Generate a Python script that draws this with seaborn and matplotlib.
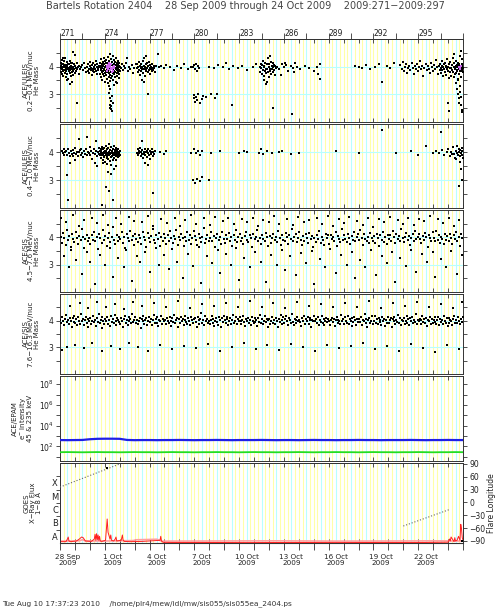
import numpy as np
import seaborn as sns
import matplotlib.pyplot as plt
from matplotlib.ticker import FixedLocator, NullFormatter, LogFormatterMathtext

sns.set_style("white")
plt.rcParams['font.family'] = ['DejaVu Sans']

# ---------------- data (2009 day of year) ----------------
start_day, end_day = 270.5, 297.5
doy_ticks = [271, 274, 277, 280, 283, 286, 289, 292, 295]
date_labels = ['28 Sep', '1 Oct', '4 Oct', '7 Oct', '10 Oct', '13 Oct', '16 Oct', '19 Oct', '22 Oct']

# He mass points as (hundredths of a day after DOY 270, mass x 100)
uleis_lo = [
    (55,402),(57,381),(58,415),(60,396),(62,372),(63,408),(65,391),(66,425),(68,399),(70,384),(71,410),(73,368),
    (75,397),(76,420),(78,389),(80,405),(81,376),(83,398),(85,431),(87,392),(88,362),(90,407),(92,385),(94,399),
    (95,418),(97,374),(99,402),(101,391),(103,411),(104,355),(106,396),(108,383),(110,408),(112,394),(114,421),
    (115,377),(117,400),(119,388),(121,412),(123,365),(125,396),(127,404),(129,381),(131,393),(133,415),(135,371),
    (137,398),(140,386),(143,409),(146,392),(149,378),(152,401),(155,395),(158,383),(161,412),(164,270),(167,390),
    (170,399),(174,375),(178,404),(182,392),(100,350),(120,338),(140,452),(72,432),(128,345),(148,441),(95,352),
    (190,398),(196,405),(203,388),(210,412),(218,395),(224,380),
    (232,398),(236,385),(240,410),(243,392),(247,376),(250,403),(253,418),(256,389),(259,396),(262,371),(265,407),
    (268,393),(271,384),(274,412),(277,399),(280,380),(283,405),(286,391),(289,422),(292,386),(295,400),(298,374),
    (301,409),(304,395),(307,388),(310,401),(385,447),
    (318,398),(319,372),(321,415),(322,388),(324,403),(325,361),(327,394),(328,427),(330,381),(331,409),(333,396),
    (334,352),(336,418),(337,385),(339,401),(340,374),(342,432),(343,393),(345,366),(346,408),(348,389),(349,420),
    (351,377),(352,399),(354,345),(355,412),(357,386),(358,403),(360,369),(361,425),(363,392),(364,380),(366,414),
    (367,357),(369,398),(370,436),(372,384),(373,405),(375,363),(376,391),(378,419),(379,376),(381,401),(382,348),
    (384,388),(387,410),(388,371),(390,395),(391,428),(393,382),(394,359),(396,406),(397,390),(399,416),(400,367),
    (402,399),(403,440),(405,378),(406,393),(408,351),(409,411),(411,386),(412,423),(414,374),(415,402),(417,362),
    (418,394),(420,418),(421,381),(423,405),(424,344),(426,390),(427,430),(429,377),(430,398),(432,413),(433,365),
    (435,389),(436,407),(438,380),(439,421),(441,395),(442,358),(444,403),(445,387),(447,415),(448,372),(450,397),
    (452,384),(376,330),(380,305),(384,285),(386,262),(390,248),(392,275),(395,258),(398,295),(388,320),(402,270),
    (383,252),(396,240),(372,340),(410,335),(430,342),
    (458,396),(465,410),(472,388),(480,402),(488,394),(495,415),(503,384),(512,399),(520,390),(530,405),(540,378),
    (548,396),(556,409),(500,432),
    (566,395),(569,408),(572,382),(575,399),(578,416),(581,388),(584,403),(587,370),(590,396),(593,411),(596,385),
    (599,400),(602,392),(605,421),(608,377),(611,404),(614,390),(617,398),(620,365),(623,409),(626,393),(629,384),
    (632,414),(635,396),(638,379),(641,402),(644,389),(647,418),(650,395),(653,372),(656,406),(659,391),(662,399),
    (665,383),(668,410),(671,394),(674,387),(678,403),(682,396),(686,380),(690,401),(600,350),(610,345),(640,300),
    (625,440),(612,432),
    (706,447),(712,398),(730,402),(745,394),(760,405),(790,399),(812,388),(835,401),(860,396),(880,410),(905,392),
    (925,398),(940,398),(946,405),(952,392),(958,411),(965,386),(972,402),(980,395),(945,285),(950,298),(955,272),
    (962,290),(968,278),(975,301),(985,270),(1000,282),(1010,295),(1030,290),(1060,302),(1090,285),(1100,300),
    (1050,400),(1080,395),(1110,406),(1140,398),(1160,415),(1185,392),(1210,404),(1240,396),(1270,401),(1300,389),
    (1340,398),(1365,410),(1205,262),
    (1390,398),(1393,382),(1396,411),(1399,394),(1402,372),(1405,405),(1408,389),(1411,420),(1414,397),(1417,368),
    (1420,402),(1423,385),(1426,415),(1429,393),(1432,376),(1435,408),(1438,390),(1441,430),(1444,381),(1447,399),
    (1450,364),(1453,410),(1456,392),(1459,386),(1462,418),(1465,375),(1468,401),(1471,393),(1474,412),(1477,380),
    (1480,397),(1483,406),(1486,388),(1489,370),(1492,403),(1495,394),(1420,352),(1440,345),(1460,440),(1477,250),
    (1604,230),(1430,338),
    (1505,400),(1520,392),(1535,410),(1550,398),(1565,405),(1580,386),(1595,402),(1610,395),(1625,412),(1640,399),
    (1660,390),(1690,403),(1720,396),(1750,385),(1770,400),(1790,408),(1530,370),(1560,415),(1620,380),(1780,375),
    (1790,355),(2026,402),(2050,398),(2075,395),(2100,405),(2130,392),(2160,399),(2190,410),(2207,345),(2240,402),
    (2260,396),(2285,415),
    (2330,405),(2338,392),(2345,418),(2352,385),(2360,399),(2368,410),(2375,378),(2382,396),(2390,402),(2398,388),
    (2405,415),(2412,394),(2420,372),(2428,403),(2435,391),(2442,409),(2450,384),(2457,398),(2464,420),(2471,390),
    (2478,401),(2485,366),(2492,395),(2499,410),(2506,387),(2513,402),(2520,393),(2527,378),(2534,412),(2541,399),
    (2548,384),(2555,406),(2562,391),(2569,425),(2576,397),(2583,375),(2590,403),
    (2594,389),(2597,410),(2600,396),(2603,378),(2606,402),(2609,421),(2612,387),(2615,399),(2618,365),(2621,408),
    (2624,393),(2627,382),(2630,414),(2633,397),(2636,371),(2639,404),(2642,390),(2645,426),(2648,385),(2651,400),
    (2654,358),(2657,411),(2660,394),(2663,379),(2666,418),(2669,396),(2672,368),(2675,405),(2678,389),(2681,432),
    (2684,381),(2687,399),(2690,361),(2693,412),(2696,392),(2699,375),(2702,420),(2705,397),(2708,384),(2711,406),
    (2714,350),(2717,415),(2720,390),(2723,372),(2726,402),(2729,438),(2732,386),(2735,398),(2738,364),(2741,411),
    (2744,393),(2747,379),(2700,402),(2710,388),(2715,399),(2725,410),(2730,395),(2740,383),(2745,404),(2705,376),
    (2690,445),(2735,455),(2742,428),(2748,395),
    (2705,340),(2712,320),(2718,300),(2722,285),(2726,270),(2731,330),(2736,262),(2740,245),(2744,235),(2728,310),
    (2738,290),(2715,355),(2657,240),(2650,270),
]
# densest ULEIS pixels (drawn in violet)
uleis_lo_peak = [
    (362,396),(366,402),(370,391),(374,405),(378,398),(382,388),(386,401),(390,394),(394,408),(398,392),(402,399),
    (406,386),(410,403),(414,395),(368,385),(388,410),(400,380),(380,412),
    (2725,400),(2730,396),(2735,404),(2728,392),
]
uleis_hi = [
    (62,402),(68,395),(74,410),(80,388),(86,399),(92,405),(98,391),(104,412),(110,396),(116,384),(122,402),(128,393),
    (134,408),(140,387),(146,398),(152,415),(158,392),(164,401),(170,385),(176,399),(182,406),(188,390),(194,412),
    (200,396),(206,381),(212,403),(218,394),(224,409),(230,388),(236,400),(242,395),(248,418),(254,389),(260,402),
    (266,376),(272,397),(278,410),(284,392),(290,404),(296,386),(302,399),(308,413),(314,393),
    (97,319),(104,230),(120,360),(180,445),(150,370),(285,360),(300,350),(292,440),(230,452),
    (318,405),(320,388),(322,412),(324,395),(326,378),(328,402),(330,419),(332,390),(334,398),(336,372),(338,409),
    (340,394),(342,383),(344,416),(346,399),(348,387),(350,405),(352,364),(354,396),(356,422),(358,391),(360,403),
    (362,380),(364,410),(366,397),(368,386),(370,414),(372,393),(374,375),(376,401),(378,428),(380,389),(382,398),
    (384,368),(386,408),(388,392),(390,381),(392,417),(394,396),(396,404),(398,385),(400,399),(402,371),(404,411),
    (406,394),(408,388),(410,420),(412,397),(414,379),(416,406),(418,391),(420,402),(422,384),(424,413),(426,395),
    (428,370),(430,400),(432,389),(434,408),(436,396),(438,382),(440,411),(442,393),(444,401),(446,387),(448,397),
    (450,405),(452,390),(335,362),(365,358),(395,355),(425,350),
    (331,210),(358,274),(405,230),(380,260),(370,330),(390,320),(415,340),
    (566,398),(570,410),(574,389),(578,402),(582,395),(586,415),(590,385),(594,400),(598,392),(602,408),(606,378),
    (610,401),(614,394),(618,412),(622,388),(626,399),(630,405),(634,383),(638,396),(642,410),(646,390),(650,402),
    (654,376),(658,399),(662,393),(666,411),(670,386),(676,400),(682,394),(688,404),
    (674,255),(620,360),(600,440),(640,355),
    (720,400),(745,392),(760,405),(930,398),(945,412),(960,395),(975,402),(990,388),(1000,405),(940,300),(955,290),
    (970,302),(985,295),(1000,310),(1045,300),(1060,398),(1120,402),(1250,396),(1280,405),(1300,400),(1380,398),
    (1395,410),(1410,392),(1440,403),(1470,396),(1520,400),(1540,405),(1600,392),(1650,398),(1900,402),(2050,398),
    (2210,480),(2300,396),(2400,404),(2450,390),(2500,420),(2550,398),(2605,470),
    (2570,402),(2590,395),(2610,408),(2625,390),(2640,399),(2650,412),(2660,386),(2670,401),(2678,394),(2685,418),
    (2692,392),(2698,380),(2704,405),(2710,397),(2716,388),(2720,411),(2724,399),(2728,384),(2732,406),(2736,395),
    (2740,415),(2743,390),(2746,402),(2748,378),(2712,420),(2702,375),(2730,365),(2738,340),(2742,300),(2725,280),
]

# SIS 4.5-7.6 MeV/nuc He mass (x100), 2-hour samples from DOY 270.5
sis_lo_mass = [
    402,381,415,396,372,428,390,405,366,411,393,384, 419,398,377,406,389,432,401,362,395,410,385,399,
    374,408,392,421,387,403,358,414,396,380,427,391, 405,369,398,416,383,400,437,392,375,409,388,402,
    394,418,379,401,362,413,397,386,424,390,405,371, 411,393,384,407,399,376,420,402,389,365,415,396,
    383,404,430,391,378,409,395,417,368,400,386,412, 397,375,410,388,422,399,381,406,393,428,372,401,
    389,414,396,367,403,385,419,392,408,377,398,425, 406,390,373,412,398,384,401,435,379,395,410,387,
    399,421,385,404,363,396,413,389,402,376,418,394, 378,407,395,416,388,401,370,409,392,426,383,400,
    412,386,399,374,405,419,391,382,408,397,365,414, 393,403,428,385,398,377,410,394,387,416,401,369,
    405,380,396,413,390,402,384,423,398,372,407,391, 387,415,401,376,409,395,431,388,400,413,382,397,
    420,392,371,404,386,411,398,379,416,393,405,364, 398,384,409,395,425,380,402,390,373,412,396,407,
    376,410,393,401,387,418,369,404,395,383,429,392, 409,395,382,414,398,375,406,391,421,386,400,412,
    390,427,399,372,411,394,385,403,378,416,397,388, 404,381,413,396,367,408,392,419,384,401,374,410,
    395,408,386,422,400,379,414,393,405,388,432,397, 383,401,417,390,406,371,398,411,387,424,393,402,
    412,394,378,405,389,416,400,366,409,396,385,418, 399,386,423,392,410,381,403,395,374,412,390,406,
    387,414,398,376,408,393,420,385,401,369,411,396,
]
sis_lo_out = [
    (58,470),(75,330),(92,455),(110,290),(125,352),(140,480),(160,318),(178,440),(195,265),(212,462),(230,345),
    (248,310),(265,470),(283,228),(300,452),(318,335),(335,480),(352,300),(370,445),(388,360),(405,255),(422,470),
    (440,325),(458,448),(476,290),(494,355),(512,475),(530,240),(548,460),(566,330),(584,310),(602,455),(620,345),
    (638,478),(656,272),(674,440),(692,362),(710,300),(728,466),(746,335),(764,452),(782,285),(800,358),(818,470),
    (836,310),(854,440),(872,250),(890,462),(908,340),(926,480),(944,295),(962,450),(980,365),(998,232),(1016,470),
    (1034,330),(1052,445),(1070,305),(1088,476),(1106,352),(1124,268),(1142,458),(1160,338),(1178,470),(1196,300),
    (1214,448),(1232,360),(1250,245),(1268,466),(1286,325),(1304,455),(1322,290),(1340,472),(1358,348),(1376,440),
    (1394,310),(1412,462),(1430,238),(1448,455),(1466,335),(1484,478),(1502,298),(1520,450),(1538,355),(1556,280),
    (1574,468),(1592,330),(1610,446),(1628,262),(1646,475),(1664,342),(1682,455),(1700,305),(1718,462),(1736,350),
    (1754,228),(1772,470),(1790,320),(1808,448),(1826,292),(1844,478),(1862,358),(1880,440),(1898,270),(1916,466),
    (1934,335),(1952,452),(1970,300),(1988,474),(2006,345),(2024,250),(2042,460),(2060,318),(2078,445),(2096,290),
    (2114,472),(2132,355),(2150,438),(2168,262),(2186,468),(2204,332),(2222,455),(2240,305),(2258,476),(2276,348),
    (2294,236),(2312,462),(2330,325),(2348,450),(2366,295),(2384,470),(2402,352),(2420,445),(2438,275),(2456,466),
    (2474,338),(2492,458),(2510,310),(2528,478),(2546,345),(2564,255),(2582,468),(2600,322),(2618,452),(2636,290),
    (2654,472),(2672,350),(2690,442),(2708,265),(2726,462),(2744,335),
]

# SIS 7.6-16.3 MeV/nuc He mass (x100), 1.5-hour samples from DOY 270.5
sis_hi_mass = [
    402,391,414,398,385,407,420,395,403,388,411,399,376,409,396,417, 393,405,382,412,400,389,424,397,408,384,401,415,392,378,406,398,
    410,387,399,418,394,403,381,409,396,426,390,404,372,412,399,386, 405,397,413,389,401,380,416,395,407,392,421,399,385,410,402,394,
    388,411,400,377,406,419,393,402,384,414,398,408,391,425,396,403, 415,392,404,387,399,411,374,406,397,418,389,402,409,383,400,413,
    396,408,383,401,420,393,405,390,412,379,403,397,416,388,407,399, 404,386,410,397,392,415,400,381,409,395,423,391,402,411,376,405,
    391,413,398,406,385,402,418,394,387,410,399,382,414,401,393,408, 410,395,378,412,401,389,405,427,392,403,384,416,398,407,390,399,
    387,404,419,393,408,380,400,411,396,385,413,402,375,409,394,417, 401,392,406,415,383,398,410,389,404,421,393,400,412,386,405,397,
    413,399,388,402,417,394,379,407,398,411,390,403,385,414,400,392, 395,410,403,381,409,396,422,391,405,387,400,418,394,406,378,402,
    408,386,397,414,392,404,388,411,399,375,407,395,420,389,401,412, 390,405,417,398,384,410,401,393,426,396,382,408,403,391,415,399,
    403,394,381,409,400,416,389,405,397,412,386,401,410,377,404,398, 416,399,407,390,413,385,402,395,419,392,406,383,400,411,394,408,
    397,382,404,411,396,408,379,401,414,390,403,397,388,421,399,405, 389,412,400,393,418,387,406,398,381,409,395,413,402,385,407,394,
    406,395,413,384,401,397,424,390,408,376,403,410,393,399,416,388, 400,418,391,405,389,411,396,402,385,414,398,407,380,403,392,412,
    393,404,410,378,407,399,415,388,401,395,420,391,409,384,402,397, 411,387,398,416,393,405,382,409,400,413,390,404,396,425,389,401,
    399,408,386,402,419,394,406,391,410,379,403,398,414,387,405,393, 404,396,412,389,401,415,383,407,395,402,388,417,400,392,409,381,
    392,410,401,397,384,406,418,393,403,390,412,399,386,408,395,414,
]
sis_hi_out = [
    (62,290),(95,302),(120,455),(150,310),(185,465),(210,298),(240,448),(265,315),(300,470),(330,285),(355,452),
    (390,305),(420,462),(455,295),(480,445),(510,318),(540,470),(575,300),(600,455),(640,288),(680,466),(720,310),
    (760,450),(800,292),(840,472),(880,305),(920,448),(960,298),(1000,462),(1040,312),(1080,455),(1120,286),
    (1160,468),(1200,302),(1240,450),(1280,315),(1320,475),(1360,295),(1400,452),(1440,308),(1480,465),(1520,290),
    (1560,448),(1600,312),(1640,470),(1680,300),(1720,455),(1760,285),(1800,462),(1840,310),(1880,450),(1920,296),
    (1960,468),(2000,305),(2040,452),(2080,318),(2120,472),(2160,292),(2200,448),(2240,306),(2280,465),(2320,288),
    (2360,455),(2400,312),(2440,470),(2480,298),(2520,450),(2560,284),(2600,462),(2640,310),(2680,448),(2720,295),
    (2745,470),
]

# EPAM electron intensity, log10, 12-hour samples from DOY 270.5 to 297.5
epam_blue_log = [
    2.62,2.61,2.62,2.63,2.70,2.74,2.75,2.75,2.74,2.63,2.61,2.62,2.62,2.61,2.62,2.62,2.63,2.62,2.61,2.62,
    2.62,2.63,2.62,2.61,2.62,2.62,2.62,2.63,2.62,2.61,2.62,2.62,2.61,2.62,2.63,2.62,2.62,2.61,2.62,2.62,
    2.63,2.62,2.62,2.61,2.62,2.62,2.62,2.63,2.62,2.61,2.62,2.62,2.63,2.62,2.62,
]
epam_green_log = [
    1.45,1.46,1.45,1.44,1.45,1.46,1.45,1.45,1.44,1.45,1.46,1.45,1.45,1.44,1.45,1.46,1.45,1.45,1.44,1.45,
    1.45,1.46,1.45,1.45,1.44,1.45,1.46,1.45,1.45,1.44,1.45,1.45,1.46,1.45,1.44,1.45,1.45,1.46,1.45,1.45,
    1.44,1.45,1.46,1.45,1.45,1.44,1.45,1.45,1.46,1.45,1.44,1.45,1.45,1.46,1.45,
]

# GOES 1-8 A flux: (day, log10 W/m^2)
goes_flux = [
    (270.50,-7.90),(270.90,-7.90),(271.00,-7.70),(271.05,-7.55),(271.10,-7.85),(271.20,-7.90),(271.60,-7.85),
    (271.80,-7.70),(271.95,-7.55),(272.05,-7.60),(272.20,-7.85),(272.60,-7.88),(272.80,-7.70),(272.85,-7.35),
    (272.90,-7.80),(272.95,-7.30),(273.00,-7.75),(273.05,-7.40),(273.10,-7.80),(273.15,-7.50),(273.20,-7.85),
    (273.30,-7.88),(273.55,-7.80),(273.62,-6.80),(273.66,-6.20),(273.72,-7.20),(273.85,-7.70),(273.90,-7.40),
    (273.95,-7.80),(274.10,-7.85),(274.20,-7.70),(274.25,-7.55),(274.30,-7.85),(274.60,-7.80),(274.68,-7.40),
    (274.72,-7.75),(274.80,-7.88),(275.20,-7.90),(276.00,-7.88),(277.20,-7.80),(277.25,-7.50),(277.30,-7.85),
    (277.40,-7.95),(278.00,-7.96),(280.00,-7.96),(283.00,-7.97),(286.00,-7.96),(289.00,-7.97),(292.00,-7.96),
    (295.00,-7.96),(296.50,-7.94),(296.60,-7.70),(296.65,-7.85),(296.70,-7.55),(296.90,-7.90),(296.95,-7.60),
    (297.00,-7.85),(297.10,-7.80),(297.20,-7.50),(297.30,-7.80),(297.35,-6.60),(297.40,-6.95),(297.45,-7.60),
    (297.50,-7.80),
]
goes_background = [
    (270.5,-7.86),(271.8,-7.84),(272.0,-7.75),(272.2,-7.85),(273.5,-7.85),(275.4,-7.82),(275.6,-7.76),
    (277.0,-7.72),(277.3,-7.86),(281.0,-7.85),(285.0,-7.84),(289.0,-7.86),(293.0,-7.85),(296.0,-7.84),(297.5,-7.86),
]
# flare longitude tracks (day, degrees) and flare markers
flare_track_1 = [(270.5, 36), (274.5, 90)]
flare_track_2 = [(293.5, -55), (296.55, -17)]
flare_marks = [(273.65, 80), (297.4, -90)]

title = "Bartels Rotation 2404    28 Sep 2009 through 24 Oct 2009    2009:271\u22122009:297"
footer = "Tue Aug 10 17:37:23 2010    /home/plr4/mew/idl/mw/sis055/sis055ea_2404.ps"

# ---------------- figure ----------------
W, H = 498, 611
fig = plt.figure(figsize=(W / 100, H / 100), dpi=100)
FRAME = '#333333'


def panel(top, bottom):
    ax = fig.add_axes([60 / W, 1 - bottom / H, 403 / W, (bottom - top) / H])
    ax.set_xlim(start_day, end_day)
    for d in np.arange(start_day, end_day, 0.25):
        c = '#b8ffff' if abs(d - round(d)) < 1e-6 else '#ffffa8'
        ax.axvline(d, color=c, lw=0.8, zorder=0)
    ax.set_xticks([])
    ax.set_xticks(np.arange(start_day, end_day + 0.01, 1), minor=True)
    ax.tick_params(axis='x', which='minor', direction='in', top=True, bottom=True,
                   length=3, width=0.6, color=FRAME)
    ax.tick_params(axis='y', which='both', direction='out', left=True, right=True,
                   width=0.6, color=FRAME, labelsize=5.5, pad=1.5, colors='#222222')
    ax.tick_params(axis='y', which='major', length=3)
    ax.tick_params(axis='y', which='minor', length=3)
    for s in ax.spines.values():
        s.set_color(FRAME)
        s.set_linewidth(0.7)
    return ax


def set_ylabel(ax, text, xpos=-0.05):
    ax.set_ylabel(text, fontsize=5, linespacing=0.92, color='#222222')
    ax.yaxis.set_label_coords(xpos, 0.5)


def mass_panel(ax, pts, label, size=2.0):
    ax.set_ylim(2, 5)
    ax.set_yticks([3, 4])
    ax.set_yticks([2.5, 3.5, 4.5], minor=True)
    for m in (3, 4):
        ax.axhline(m, color='#b8ffff', lw=0.8, zorder=0)
    arr = np.array(pts, dtype=float)
    sns.scatterplot(x=270 + arr[:, 0] / 100, y=arr[:, 1] / 100, ax=ax, color='black',
                    marker='s', s=size, linewidth=0, legend=False, zorder=3)
    set_ylabel(ax, label)


# panel 1: ULEIS 0.2-0.4 MeV/nuc
ax1 = panel(39, 122)
mass_panel(ax1, uleis_lo, "ACE/ULEIS\n0.2\u22120.4 MeV/nuc\nHe Mass", size=1.7)
peak = np.array(uleis_lo_peak, dtype=float)
sns.scatterplot(x=270 + peak[:, 0] / 100, y=peak[:, 1] / 100, ax=ax1, color='#cc66ee',
                marker='s', s=3, linewidth=0, legend=False, zorder=4)
top = ax1.secondary_xaxis('top')
top.set_xticks(doy_ticks, labels=[str(d) for d in doy_ticks])
top.xaxis.set_minor_locator(FixedLocator(np.arange(start_day, end_day + 0.01, 1.5)))
top.tick_params(which='major', length=0, pad=1, labelsize=5.5, colors='#222222')
top.tick_params(which='minor', length=4, direction='out', width=0.6, color=FRAME)
top.spines['top'].set_color(FRAME)
top.spines['top'].set_linewidth(0.7)

# panel 2: ULEIS 0.4-1.0 MeV/nuc
ax2 = panel(124, 208)
mass_panel(ax2, uleis_hi, "ACE/ULEIS\n0.4\u22121.0 MeV/nuc\nHe Mass", size=1.7)

# panel 3: SIS 4.5-7.6 MeV/nuc
ax3 = panel(210, 292)
mass_panel(ax3, sis_lo_out, "ACE/SIS\n4.5\u22127.6 MeV/nuc\nHe Mass", size=1.7)
sis_lo_day = start_day + (np.arange(len(sis_lo_mass)) + 0.5) / 12
sns.scatterplot(x=sis_lo_day, y=np.array(sis_lo_mass) / 100, ax=ax3, color='black',
                marker='s', s=1.8, linewidth=0, legend=False, zorder=3)

# panel 4: SIS 7.6-16.3 MeV/nuc
ax4 = panel(294, 374)
mass_panel(ax4, sis_hi_out, "ACE/SIS\n7.6\u221216.3 MeV/nuc\nHe Mass", size=1.7)
sis_hi_day = start_day + (np.arange(len(sis_hi_mass)) + 0.5) / 16
sns.scatterplot(x=sis_hi_day, y=np.array(sis_hi_mass) / 100, ax=ax4, color='black',
                marker='s', s=2.6, linewidth=0, legend=False, zorder=3)

# panel 5: EPAM electrons
ax5 = panel(376, 461)
ax5.set_yscale('log')
ax5.set_ylim(10 ** 0.6, 10 ** 8.8)
ax5.yaxis.set_major_locator(FixedLocator([1e2, 1e4, 1e6, 1e8]))
ax5.yaxis.set_major_formatter(LogFormatterMathtext())
ax5.yaxis.set_minor_locator(FixedLocator([1e1, 1e3, 1e5, 1e7]))
ax5.yaxis.set_minor_formatter(NullFormatter())
epam_day = np.linspace(start_day, end_day, len(epam_blue_log))
sns.lineplot(x=epam_day, y=10 ** np.array(epam_blue_log), ax=ax5, color='#1f1fe6', lw=1.6, zorder=3)
epam_day_g = np.linspace(start_day, end_day, len(epam_green_log))
sns.lineplot(x=epam_day_g, y=10 ** np.array(epam_green_log), ax=ax5, color='#22dd22', lw=1.3, zorder=3)
set_ylabel(ax5, "ACE/EPAM\ne$^{-}$ Intensity\n45 & 235 keV", xpos=-0.066)

# panel 6: GOES X-ray flux with flare longitude
ax6 = panel(463, 543)
ax6.set_yscale('log')
ax6.set_ylim(1e-8, 1e-2)
ax6.yaxis.set_major_locator(FixedLocator([10 ** -7.5, 10 ** -6.5, 10 ** -5.5, 10 ** -4.5, 10 ** -3.5]))
ax6.set_yticklabels(['A', 'B', 'C', 'M', 'X'])
ax6.yaxis.set_minor_locator(FixedLocator([1e-7, 1e-6, 1e-5, 1e-4, 1e-3]))
ax6.yaxis.set_minor_formatter(NullFormatter())
ax6.tick_params(axis='y', which='major', length=0, right=False, labelsize=6)
ax6.tick_params(axis='y', which='minor', right=False)
bg = np.array(goes_background)
sns.lineplot(x=bg[:, 0], y=10 ** bg[:, 1], ax=ax6, color='#ffa0a0', lw=1.2, sort=False, zorder=2)
gf = np.array(goes_flux)
sns.lineplot(x=gf[:, 0], y=10 ** gf[:, 1], ax=ax6, color='#ff2020', lw=0.7, sort=False, zorder=3)
set_ylabel(ax6, "GOES\nX\u2212Ray Flux\n1\u22128 \u00c5", xpos=-0.045)

ax6b = ax6.twinx()
ax6b.set_ylim(-94.7, 92.3)
ax6b.set_yticks([90, 60, 30, 0, -30, -60, -90])
ax6b.tick_params(axis='y', direction='out', length=3, width=0.6, color=FRAME,
                 labelsize=5.5, pad=1.5, colors='#222222')
for tr in (flare_track_1, flare_track_2):
    t = np.array(tr)
    sns.lineplot(x=t[:, 0], y=t[:, 1], ax=ax6b, color='#666666', lw=0.8, linestyle=':', zorder=4)
fm = np.array(flare_marks)
sns.scatterplot(x=fm[:, 0], y=fm[:, 1], ax=ax6b, color='black', s=2.5, marker='s', linewidth=0,
                legend=False, zorder=5)
ax6b.set_ylabel("Flare Longitude", fontsize=5.5, color='#222222', labelpad=1)
for s in ax6b.spines.values():
    s.set_color(FRAME)
    s.set_linewidth(0.7)

bottom = ax6.secondary_xaxis('bottom')
bottom.set_xticks(doy_ticks, labels=[f"{lab}\n2009" for lab in date_labels])
bottom.xaxis.set_minor_locator(FixedLocator(np.arange(start_day, end_day + 0.01, 1)))
bottom.tick_params(which='major', length=0, pad=8, labelsize=5.2, colors='#222222')
bottom.tick_params(which='minor', length=5, direction='out', width=0.6, color=FRAME)
for lab in bottom.get_xticklabels():
    lab.set_linespacing(0.95)

fig.text(245 / W, 1 - 6 / H, title, ha='center', va='center', fontsize=7, color='#444444')
fig.text(2 / W, 1 - 604 / H, footer, ha='left', va='center', fontsize=5.3, color='#333333')

fig.savefig('out.png', dpi=100)
